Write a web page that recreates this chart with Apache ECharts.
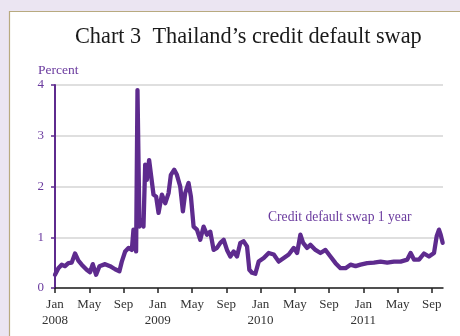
<!DOCTYPE html>
<html>
<head>
<meta charset="utf-8">
<script src="https://cdn.jsdelivr.net/npm/echarts@6/dist/echarts.min.js"></script>
<style>
html,body{margin:0;padding:0;background:#ebe5f2;}
#c{width:460px;height:336px;}
</style>
</head>
<body>
<div id="c"></div>
<script>
// months since Jan 2008
var months = [0.00,0.39,0.78,1.17,1.56,1.95,2.34,2.73,3.12,3.70,4.09,4.41,4.80,5.19,5.85,6.43,7.02,7.52,7.80,8.19,8.58,8.97,9.16,9.47,9.63,9.86,10.14,10.33,10.53,10.72,10.99,11.23,11.50,11.81,12.09,12.48,12.87,13.26,13.53,13.92,14.23,14.62,14.93,15.20,15.59,15.87,16.18,16.57,16.96,17.35,17.74,18.13,18.52,18.91,19.30,19.69,20.08,20.47,20.86,21.25,21.64,22.03,22.42,22.69,23.00,23.39,23.78,24.37,24.95,25.54,26.12,26.71,27.29,27.88,28.27,28.65,28.97,29.43,29.82,30.41,30.99,31.58,32.16,32.75,33.33,33.92,34.50,35.09,35.67,36.45,37.23,38.01,38.79,39.57,40.35,41.13,41.52,41.91,42.50,43.08,43.66,44.25,44.56,44.83,45.03,45.26];
// credit default swap 1 year, percent
var cds1y = [0.26,0.39,0.46,0.43,0.49,0.50,0.68,0.54,0.46,0.36,0.31,0.47,0.26,0.43,0.47,0.43,0.37,0.33,0.52,0.72,0.79,0.75,1.15,0.72,3.90,1.21,1.34,1.21,2.43,2.13,2.52,2.20,1.84,1.80,1.48,1.84,1.67,1.87,2.23,2.33,2.23,2.00,1.51,1.87,2.07,1.80,1.21,1.15,0.95,1.21,1.05,1.11,0.75,0.79,0.89,0.95,0.75,0.62,0.72,0.62,0.89,0.92,0.82,0.36,0.30,0.28,0.52,0.59,0.69,0.66,0.52,0.59,0.66,0.79,0.69,1.05,0.89,0.79,0.85,0.75,0.69,0.75,0.62,0.49,0.39,0.39,0.46,0.43,0.46,0.49,0.50,0.52,0.50,0.52,0.52,0.56,0.69,0.56,0.56,0.68,0.62,0.69,1.02,1.15,1.05,0.89];
var monthNames = ['Jan','Feb','Mar','Apr','May','Jun','Jul','Aug','Sep','Oct','Nov','Dec'];
var startYear = 2008;
var yTicks = [0,1,2,3,4];

var purple = '#5e2b8e';
var labelPurple = '#6a3a9e';
var serif = '"Liberation Serif","DejaVu Serif",serif';
var data = months.map(function(m,i){return [m, cds1y[i]];});

var chart = echarts.init(document.getElementById('c'));
chart.setOption({
  animation:false,
  backgroundColor:'#ebe5f2',
  graphic:[
    {type:'rect',shape:{x:9.5,y:11.5,width:470,height:340},style:{fill:'#ffffff',stroke:'#b8aa80',lineWidth:1.2},z:-10},
    {type:'text',left:75,top:26,style:{text:'Chart 3  Thailand\u2019s credit default swap',font:'22.3px '+serif,fill:'#1a1a1a'},z:10},
    {type:'text',left:38,top:63,style:{text:'Percent',font:'13.5px '+serif,fill:labelPurple},z:10},
    {type:'text',left:268,top:210,style:{text:'Credit default swap 1 year',font:'13.6px '+serif,fill:labelPurple},z:10}
  ],
  grid:{left:55,right:17,top:85,bottom:48,containLabel:false},
  xAxis:{
    type:'value',min:0,max:45.3,interval:4,
    axisLine:{show:true,lineStyle:{color:'#222',width:1.5}},
    axisTick:{show:true,length:5,lineStyle:{color:'#222',width:1.5}},
    splitLine:{show:false},
    axisLabel:{
      color:'#333',fontFamily:serif,fontSize:13,lineHeight:16,margin:9,showMaxLabel:false,
      formatter:function(v){
        if (Math.abs(v % 4) > 1e-6) return '';
        var mi = Math.round(v);
        var mn = monthNames[mi % 12];
        if (mi % 12 === 0) return mn + '\n' + (startYear + Math.floor(mi/12));
        return mn;
      }
    }
  },
  yAxis:{
    type:'value',min:yTicks[0],max:yTicks[yTicks.length-1],interval:1,
    axisLine:{show:true,lineStyle:{color:purple,width:2}},
    axisTick:{show:true,length:4,lineStyle:{color:purple,width:1.5}},
    splitLine:{show:true,lineStyle:{color:'#d4d4d4',width:1.5}},
    axisLabel:{color:labelPurple,fontFamily:serif,fontSize:13,margin:11}
  },
  series:[{
    type:'line',data:data,showSymbol:false,
    lineStyle:{color:purple,width:4.3,join:'round',cap:'round'},
    z:5
  }]
});
</script>
</body>
</html>
